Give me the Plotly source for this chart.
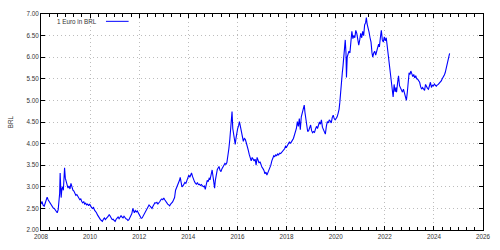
import plotly.graph_objects as go

years = [
2008.00,2008.04,2008.08,2008.13,2008.17,2008.22,2008.25,2008.29,2008.33,2008.38,2008.42,2008.46,2008.50,2008.54,2008.58,2008.62,2008.66,2008.70,2008.73,2008.76,2008.78,2008.80,2008.82,2008.85,2008.88,2008.91,2008.94,2008.96,2008.99,
2009.02,2009.06,2009.10,2009.14,2009.18,2009.22,2009.26,2009.30,2009.34,2009.38,2009.42,2009.46,2009.50,2009.54,2009.58,2009.62,2009.66,2009.70,2009.74,2009.78,2009.82,2009.86,2009.90,2009.94,2009.98,
2010.02,2010.06,2010.10,2010.14,2010.18,2010.22,2010.26,2010.30,2010.34,2010.38,2010.42,2010.46,2010.50,2010.54,2010.58,2010.62,2010.66,2010.70,2010.74,2010.78,2010.82,2010.86,2010.90,2010.94,2010.98,
2011.02,2011.06,2011.10,2011.14,2011.18,2011.22,2011.26,2011.30,2011.34,2011.38,2011.42,2011.46,2011.50,2011.54,2011.58,2011.62,2011.66,2011.70,2011.74,2011.76,2011.80,2011.84,2011.88,2011.92,2011.96,
2012.00,2012.04,2012.08,2012.12,2012.16,2012.20,2012.24,2012.28,2012.32,2012.36,2012.40,2012.44,2012.48,2012.52,2012.56,2012.60,2012.64,2012.68,2012.72,2012.76,2012.80,2012.84,2012.88,2012.92,2012.96,
2013.00,2013.04,2013.08,2013.12,2013.16,2013.20,2013.24,2013.28,2013.32,2013.36,2013.40,2013.44,2013.48,2013.52,2013.56,2013.60,2013.64,2013.67,2013.70,2013.74,2013.78,2013.82,2013.86,2013.90,2013.94,2013.98,
2014.02,2014.06,2014.10,2014.13,2014.17,2014.21,2014.25,2014.29,2014.33,2014.37,2014.41,2014.45,2014.49,2014.53,2014.57,2014.61,2014.65,2014.69,2014.73,2014.77,2014.81,2014.85,2014.89,2014.93,2014.97,
2015.01,2015.04,2015.07,2015.10,2015.14,2015.18,2015.22,2015.25,2015.29,2015.33,2015.37,2015.41,2015.45,2015.49,2015.53,2015.57,2015.61,2015.65,2015.69,2015.72,2015.75,2015.78,2015.81,2015.84,2015.87,2015.91,2015.94,2015.97,
2016.01,2016.05,2016.08,2016.12,2016.16,2016.20,2016.24,2016.28,2016.32,2016.36,2016.40,2016.44,2016.48,2016.52,2016.56,2016.60,2016.64,2016.68,2016.72,2016.76,2016.80,2016.84,2016.88,2016.92,2016.96,
2017.00,2017.04,2017.08,2017.12,2017.16,2017.20,2017.24,2017.28,2017.32,2017.36,2017.40,2017.44,2017.48,2017.52,2017.56,2017.60,2017.64,2017.68,2017.72,2017.76,2017.80,2017.84,2017.88,2017.92,2017.96,
2018.00,2018.04,2018.08,2018.12,2018.16,2018.20,2018.24,2018.28,2018.32,2018.36,2018.40,2018.44,2018.48,2018.52,2018.56,2018.60,2018.64,2018.68,2018.72,2018.75,2018.78,2018.82,2018.86,2018.90,2018.94,2018.98,
2019.02,2019.06,2019.10,2019.14,2019.18,2019.22,2019.26,2019.30,2019.34,2019.38,2019.42,2019.46,2019.50,2019.54,2019.58,2019.62,2019.66,2019.70,2019.74,2019.78,2019.82,2019.86,2019.90,2019.94,2019.98,
2020.02,2020.06,2020.10,2020.14,2020.17,2020.20,2020.24,2020.27,2020.30,2020.33,2020.36,2020.39,2020.42,2020.44,2020.47,2020.50,2020.54,2020.58,2020.62,2020.66,2020.70,2020.74,2020.78,2020.82,2020.86,2020.90,2020.94,2020.98,
2021.02,2021.06,2021.10,2021.14,2021.18,2021.22,2021.25,2021.28,2021.32,2021.36,2021.40,2021.44,2021.48,2021.51,2021.55,2021.59,2021.63,2021.67,2021.71,2021.75,2021.78,2021.82,2021.86,2021.90,2021.94,2021.98,
2022.02,2022.06,2022.10,2022.14,2022.18,2022.22,2022.26,2022.30,2022.34,2022.38,2022.42,2022.46,2022.48,2022.52,2022.56,2022.60,2022.64,2022.68,2022.72,2022.76,2022.80,2022.84,2022.88,2022.92,2022.96,2022.99,
2023.03,2023.06,2023.10,2023.14,2023.18,2023.22,2023.26,2023.30,2023.34,2023.38,2023.42,2023.46,2023.50,2023.54,2023.58,2023.62,2023.66,2023.70,2023.74,2023.78,2023.82,2023.86,2023.90,2023.94,2023.98,
2024.02,2024.06,2024.10,2024.14,2024.18,2024.22,2024.26,2024.30,2024.34,2024.38,2024.42,2024.46,2024.50,2024.53,2024.57,2024.60,2024.64]

eur_brl = [
2.60,2.66,2.58,2.55,2.62,2.70,2.76,2.70,2.66,2.63,2.60,2.55,2.51,2.50,2.46,2.42,2.40,2.47,2.60,2.85,3.32,3.05,2.75,2.95,3.00,2.92,3.20,3.44,3.20,
3.12,3.05,2.97,3.02,2.95,3.08,2.98,2.92,2.90,2.86,2.80,2.82,2.76,2.74,2.70,2.72,2.66,2.63,2.66,2.60,2.62,2.58,2.60,2.56,2.60,
2.55,2.52,2.50,2.52,2.46,2.44,2.40,2.35,2.30,2.26,2.24,2.22,2.20,2.25,2.28,2.24,2.26,2.30,2.32,2.36,2.30,2.28,2.24,2.25,2.22,
2.20,2.25,2.28,2.30,2.26,2.30,2.33,2.30,2.28,2.32,2.28,2.26,2.25,2.22,2.24,2.28,2.32,2.38,2.50,2.44,2.40,2.45,2.42,2.44,2.40,
2.36,2.30,2.27,2.28,2.32,2.36,2.40,2.44,2.48,2.52,2.58,2.55,2.52,2.50,2.55,2.58,2.63,2.62,2.64,2.60,2.62,2.66,2.70,2.72,2.70,
2.74,2.70,2.66,2.62,2.60,2.58,2.56,2.60,2.62,2.65,2.70,2.75,2.92,2.97,3.02,3.08,3.15,3.22,3.10,3.00,3.02,3.06,3.10,3.08,3.16,3.24,
3.27,3.22,3.28,3.32,3.24,3.15,3.12,3.08,3.06,3.10,3.05,3.06,3.03,3.05,3.02,3.00,3.02,2.94,3.05,3.15,3.12,3.20,3.18,3.28,3.39,
3.22,3.12,2.97,3.15,3.35,3.40,3.44,3.47,3.38,3.35,3.42,3.45,3.50,3.54,3.52,3.56,3.70,3.88,4.10,4.36,4.55,4.74,4.35,4.25,4.10,3.98,4.12,4.29,
4.35,4.42,4.51,4.40,4.30,4.17,4.05,4.12,4.10,4.02,3.95,3.85,3.75,3.65,3.60,3.68,3.62,3.60,3.64,3.50,3.68,3.62,3.55,3.58,3.50,
3.45,3.42,3.38,3.30,3.34,3.27,3.32,3.38,3.42,3.50,3.60,3.68,3.72,3.70,3.74,3.72,3.76,3.74,3.78,3.77,3.80,3.83,3.86,3.88,3.94,
3.92,3.96,4.00,4.04,4.00,4.06,4.08,4.12,4.18,4.28,4.35,4.51,4.40,4.58,4.32,4.62,4.70,4.78,4.89,4.72,4.58,4.35,4.28,4.30,4.40,4.43,
4.30,4.25,4.28,4.26,4.34,4.40,4.35,4.42,4.50,4.45,4.55,4.38,4.32,4.25,4.22,4.40,4.51,4.48,4.55,4.52,4.48,4.60,4.66,4.58,4.55,
4.58,4.62,4.70,4.80,4.96,5.25,5.42,5.64,5.80,5.95,6.20,6.40,6.10,5.53,6.00,6.05,6.14,6.10,6.40,6.60,6.43,6.50,6.45,6.62,6.55,6.43,6.28,6.40,
6.55,6.45,6.60,6.50,6.75,6.80,6.92,6.77,6.70,6.58,6.45,6.35,6.10,6.00,6.10,6.14,6.05,6.18,6.22,6.30,6.24,6.45,6.62,6.40,6.35,6.47,
6.38,6.45,6.25,6.07,5.90,5.70,5.40,5.25,5.08,5.37,5.20,5.30,5.19,5.40,5.57,5.34,5.28,5.22,5.19,5.26,5.15,5.08,5.00,5.20,5.55,5.64,
5.60,5.68,5.62,5.55,5.60,5.52,5.57,5.50,5.49,5.45,5.42,5.32,5.26,5.30,5.25,5.23,5.37,5.30,5.28,5.26,5.35,5.42,5.30,5.35,5.34,
5.38,5.35,5.33,5.36,5.37,5.40,5.42,5.45,5.50,5.53,5.58,5.64,5.75,5.80,5.92,5.96,6.09]

x_ticks = [2008, 2010, 2012, 2014, 2016, 2018, 2020, 2022, 2024, 2026]
y_ticks = [2.0, 2.5, 3.0, 3.5, 4.0, 4.5, 5.0, 5.5, 6.0, 6.5, 7.0]
series_name = "1 Euro in BRL"
y_title = "BRL"

FONT = "Liberation Sans, Arial, sans-serif"
FS = 6.3
TXT = "#333333"
LINE = "#0000ff"

fig = go.Figure()
fig.add_trace(go.Scatter(x=years, y=eur_brl, mode="lines", name=series_name,
                         line=dict(color=LINE, width=1.1), showlegend=False))

axis_common = dict(
    showline=True, linecolor="black", linewidth=1, mirror="ticks",
    ticks="inside", tickcolor="black", ticklen=4, tickwidth=1,
    showgrid=True, gridcolor="#bdbdbd", griddash="1px,3px", gridwidth=1,
    zeroline=False, tickfont=dict(family=FONT, size=FS, color=TXT),
)

fig.update_xaxes(range=[2008, 2026], tickmode="array", tickvals=x_ticks,
                 ticktext=[str(t) for t in x_ticks],
                 minor=dict(dtick=1/3, tick0=2008, ticks="inside", ticklen=3,
                            tickcolor="black", showgrid=False),
                 **axis_common)
fig.update_yaxes(range=[2, 7], tickmode="array", tickvals=y_ticks,
                 ticktext=[f"{v:.2f}" for v in y_ticks],
                 title=dict(text=y_title, font=dict(family=FONT, size=FS, color=TXT), standoff=12),
                 **axis_common)

fig.add_annotation(xref="paper", yref="paper", x=(96 - 37) / 449, y=(231 - 17.5) / 221,
                   text=series_name, showarrow=False, xanchor="right", yanchor="middle",
                   font=dict(family=FONT, size=FS, color=TXT))
fig.add_shape(type="line", xref="paper", yref="paper",
              x0=(103 - 37) / 449, x1=(126 - 37) / 449,
              y0=(231 - 17.5) / 221, y1=(231 - 17.5) / 221,
              line=dict(color=LINE, width=1))

fig.update_layout(width=500, height=250, margin=dict(l=37, r=14, t=10, b=19),
                  paper_bgcolor="white", plot_bgcolor="white",
                  font=dict(family=FONT, size=FS, color=TXT))

fig.write_html("out.html")
